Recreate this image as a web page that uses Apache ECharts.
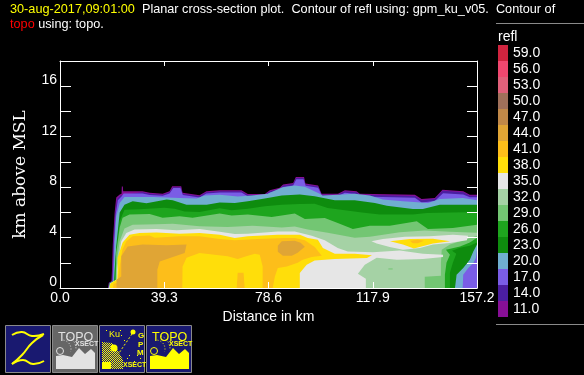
<!DOCTYPE html>
<html>
<head>
<meta charset="utf-8">
<style>
  html, body { margin: 0; padding: 0; background: #000; }
  #chart { width: 584px; height: 375px; }
</style>
<script src="https://cdn.jsdelivr.net/npm/echarts@6/dist/echarts.min.js"></script>
</head>
<body>
<div id="chart"></div>
<script>
// colour scale, top to bottom as in the legend
const legendLevels = [59, 56, 53, 50, 47, 44, 41, 38, 35, 32, 29, 26, 23, 20, 17, 14, 11];
const legendColors = ["#d0243f", "#f0476f", "#e0607a", "#a0705a", "#c08848", "#e0a535", "#fdbe1a", "#ffde0a",
  "#e6e6e6", "#a5d2a5", "#73c673", "#1ea51e", "#0e8c0e", "#70aed0", "#7a5de6", "#4b1ea0", "#870f96"];

const distanceTicks = 39.3;
const distanceMax = 157.2;
const heightMax = 18;

// contour outlines: [distance km, height km]
const refl11 = [[18.1,0],[18.4,.42],[19.4,.54],[19.6,1.45],[19.9,3.44],[20.6,5.98],[21.2,7.17],[22.5,7.41],[23.2,7.48],[23.3,8.04],[23.7,8.04],[23.8,7.68],[31.1,7.68],[33.8,7.56],[38.7,7.48],[41.3,7.67],[42.3,8.06],[45.7,8.06],[46.2,7.56],[52.6,7.35],[55.2,7.67],[60.2,7.75],[68.4,7.75],[70.8,7.46],[77.2,7.46],[79.1,7.75],[82.8,7.94],[84.1,8.2],[87.9,8.33],[88.9,8.81],[92,8.81],[92.5,8.28],[97.3,8.12],[98.6,7.48],[104.8,7.48],[107.4,7.75],[111.8,7.67],[113,7.48],[133.8,7.4],[136.3,7.06],[141.3,7.14],[144.2,7.8],[152,7.67],[154.5,7.4],[157.2,7.4],[157.2,0]];
const refl14 = [[18.2,0],[18.5,.4],[19.6,.55],[19.8,1.45],[20.1,3.44],[20.8,5.9],[21.5,7.05],[22.8,7.33],[31.1,7.6],[33.8,7.48],[38.7,7.4],[41.3,7.6],[42.6,7.98],[45.5,7.98],[46.2,7.48],[52.6,7.27],[55.2,7.6],[60.2,7.67],[68.4,7.67],[70.8,7.38],[77.2,7.38],[79.1,7.67],[82.8,7.86],[84.1,8.12],[87.9,8.25],[89,8.73],[91.9,8.73],[92.5,8.2],[97.3,8.04],[98.6,7.4],[104.8,7.4],[107.4,7.67],[111.8,7.6],[113,7.4],[133.8,7.3],[136.3,6.95],[141.3,7.05],[144.2,7.72],[152,7.6],[154.5,7.32],[157.2,7.32],[157.2,0]];
const refl17 = [[18.3,0],[18.6,.38],[19.8,.56],[20,1.45],[20.3,3.44],[21,5.85],[21.8,6.95],[23.2,7.25],[24,7.5],[31.1,7.5],[33.8,7.38],[38.7,7.32],[41.3,7.5],[42.7,7.92],[45.4,7.92],[46.3,7.38],[52.6,7.18],[55.2,7.5],[60.2,7.58],[68.4,7.58],[70.8,7.28],[77.2,7.28],[79.1,7.58],[82.8,7.75],[84.1,8],[87.9,8.12],[89.1,8.62],[91.8,8.62],[92.6,8.1],[97.3,7.95],[98.8,7.3],[104.8,7.3],[107.4,7.55],[111.8,7.45],[113.2,7.25],[133.8,7.15],[136.3,6.78],[141.3,6.9],[144.4,7.52],[152,7.42],[154.5,7.2],[157.2,7.2],[157.2,0]];
const refl20 = [[18.35,0],[18.7,.36],[20.1,.58],[20.3,1.45],[20.6,3.6],[21.2,5.68],[22.5,6.75],[24.3,7.22],[30,7.22],[34.9,7.22],[40.2,7.17],[45.1,7.13],[51.5,7.09],[54.5,7.33],[60.2,7.4],[67,7.25],[72.3,7.33],[78.3,7.48],[83.6,7.96],[88.5,8.12],[92.3,8.02],[97.9,7.48],[99,7.33],[104.7,7.4],[111.1,7.48],[116.8,7.33],[121.7,7.01],[129.3,6.87],[138.7,6.75],[143.2,7.06],[151.9,7.14],[157.2,6.95],[157.2,3.04],[156.8,2.38],[155.8,1.98],[153.9,1.59],[152,1.06],[151.8,0]];
const refl23 = [[18.4,0],[18.7,.36],[20.4,.6],[20.6,1.45],[21.2,3.3],[22.5,5.98],[24.3,6.61],[27.4,6.87],[32.6,6.73],[40.2,7.01],[42.5,6.95],[47.7,6.61],[55.3,6.61],[60.2,6.77],[65.9,6.75],[70.8,6.87],[77.2,7.09],[83.6,7.33],[90.4,7.41],[96,7.27],[103.6,6.95],[111.1,6.95],[118.7,6.75],[123.2,6.53],[133,6.27],[136.8,6.27],[143.2,6.61],[157.2,6.61],[157.2,3.44],[155.8,2.9],[154.5,2.25],[152,1.59],[149.5,1.06],[148.9,0]];
const refl26 = [[18.45,0],[18.75,.36],[20.7,.62],[20.8,1.45],[21.2,3.04],[22.5,5.29],[24.3,6.21],[30,6.25],[39.4,6.37],[43.2,6.29],[47,6.06],[52.6,6.02],[60.2,6.33],[64.7,6.16],[70.8,6.29],[77.2,6.48],[83.6,6.61],[90.4,6.67],[96,6.69],[100.9,6.35],[107.4,6.16],[113.8,5.98],[120.6,5.82],[133,5.82],[138.3,5.95],[157.2,6.03],[157.2,3.6],[154.5,3.36],[150.8,3.2],[147.8,2.96],[149.4,2.72],[148.1,2.01],[147,1.21],[147,0]];
const refl29 = [[18.5,0],[18.8,.36],[21,.64],[21.1,1.45],[21.2,2.8],[22.5,4.79],[23.6,5.58],[26.2,5.82],[33.8,5.87],[38.7,5.58],[45.1,5.68],[50,5.58],[60.2,5.9],[64.7,5.74],[70.8,5.82],[79.8,5.63],[83.6,5.74],[88.5,5.9],[92.3,5.48],[99.8,5.56],[104.7,5.16],[110.4,4.68],[116.8,4.94],[124.3,4.94],[134.5,5.29],[138.7,4.68],[148.1,4.76],[157.2,5.02],[157.2,3.99],[154.5,3.6],[150.8,3.3],[145.5,3.04],[147,2.64],[145.7,2.01],[145.1,1.06],[145.1,0]];
const refl32 = [[18.55,0],[18.85,.36],[21.2,.66],[21.3,1.45],[21.7,2.51],[22.5,3.7],[24.3,4.71],[27.4,5.02],[36.4,5.06],[42.5,5.1],[52.6,4.89],[63.2,4.83],[72.6,4.94],[83.6,4.79],[88.5,4.87],[93.4,4.63],[100.9,4.39],[111.1,3.99],[116.8,4.07],[128.1,4.43],[137.5,4.55],[147,4.47],[157.2,4.39],[157.2,4.15],[152.6,3.83],[147,3.44],[143.9,3.04],[143.6,2.01],[143.6,.98],[137.5,.9],[137.5,0]];
const refl29Speck = [[123.8,1.55],[125.4,1.55],[125.4,1.47],[123.8,1.47]];
const refl35 = [[18.6,0],[18.9,.36],[21.5,.68],[21.5,1.45],[22.5,2.9],[23.1,3.7],[25,4.37],[28.1,4.63],[36.4,4.68],[44,4.57],[52.6,4.68],[60.2,4.47],[65.9,4.29],[70.8,4.31],[82.1,4.49],[88.5,4.49],[90.4,4.39],[94.9,4.15],[99.8,3.78],[104.7,3.17],[108.5,2.9],[117.9,2.83],[128.1,2.98],[136.8,2.72],[144.4,2.64],[144.4,2.46],[136.8,2.3],[127,2.25],[119.4,2.4],[114.9,1.85],[112.3,1.13],[115.3,.74],[115.3,0]];
const refl35Lens = [[117.4,3.7],[121.7,3.89],[130,4.07],[139.4,4.1],[148.1,4.23],[153.8,4.15],[153.4,3.78],[147,3.57],[140.6,3.44],[135.7,3.17],[129.3,3.04],[124.3,3.25],[119.4,3.52]];
const refl38 = [[18.7,0],[19,.36],[21.6,.7],[21.7,1.45],[21.7,2.4],[23.6,3.6],[26.2,4.23],[30,4.37],[36.4,4.41],[45.1,4.31],[52.6,4.37],[60.2,4.23],[65.9,3.97],[70.8,4.1],[82.1,4.23],[90.4,4.23],[93.4,3.97],[97.2,3.83],[99.1,3.17],[103.6,2.72],[111.1,2.72],[117.6,2.59],[115.7,2.38],[103.6,2.3],[96,2.19],[93,1.85],[90.4,1.19],[90.4,0]];
const refl38Lens = [[124.4,3.7],[131.9,3.89],[140.6,3.91],[147,3.7],[140.6,3.52],[133.4,3.14],[129.3,3.44]];
const refl41 = [[20,0],[20.2,.34],[21.7,.42],[22.3,1.45],[23.5,3.04],[25,3.7],[27.4,4.1],[33.8,4.17],[35.7,3.99],[45.1,4.1],[52.6,4.1],[60.2,3.89],[65.9,3.78],[74.5,3.89],[84.7,3.97],[88.5,3.97],[92.3,3.78],[96,3.25],[98.7,2.56],[94.9,2.46],[91.5,2.25],[89.6,2.01],[85.5,1.71],[82.1,1.59],[81,.92],[80.2,0],[76.4,0],[76.4,1.71],[75.3,2.64],[73.4,2.72],[69.6,2.48],[67,2.3],[63.2,2.51],[58.3,2.64],[52.6,2.78],[47.7,2.4],[46.2,1.71],[46.1,0]];
const refl41Notch = [[66.6,0],[67,1.21],[69.2,1.21],[69.6,0]];
const refl41Lens = [[131.9,3.75],[134.9,3.83],[137.2,3.75],[134.9,3.55],[133,3.55]];
const refl44 = [[21.3,0],[21.3,.66],[23.1,.92],[23.1,2.51],[25.5,3.3],[31.1,3.44],[40.2,3.38],[47.7,3.44],[47,2.78],[37.6,2.11],[36.7,1.45],[36.7,0]];
const refl44Core = [[83.6,3.71],[88.5,3.75],[90.7,3.59],[92.3,3.28],[89.6,2.8],[87.4,2.56],[84,2.56],[82.1,2.88],[82.1,3.36]];

// paint order: weakest first, each stronger contour on top
const contourLayers = [
  [11, refl11], [14, refl14], [17, refl17], [20, refl20], [23, refl23], [26, refl26], [29, refl29],
  [32, refl32], [29, refl29Speck], [35, refl35], [35, refl35Lens], [38, refl38], [38, refl38Lens],
  [41, refl41], [41, refl41Notch], [41, refl41Lens], [44, refl44], [44, refl44Core],
];

const levelColor = (level) => legendColors[legendLevels.indexOf(level)];

const labelFont = "Liberation Sans";
const navy = "#191970";
const iconBorder = "#8a8a8a";

const renderContour = (params, api) => {
  const layer = contourLayers[params.dataIndex];
  return {
    type: "polygon",
    shape: { points: layer[1].map((p) => api.coord(p)) },
    style: { fill: levelColor(layer[0]) },
  };
};

// dither used on the GPM button
const ditherPattern = () => {
  const c = document.createElement("canvas");
  c.width = 2;
  c.height = 2;
  const ctx = c.getContext("2d");
  ctx.fillStyle = navy;
  ctx.fillRect(0, 0, 2, 2);
  ctx.fillStyle = "#ffff00";
  ctx.fillRect(0, 0, 1, 1);
  ctx.fillRect(1, 1, 1, 1);
  return { image: c, repeat: "repeat" };
};

const iconFrame = (bg) => ({
  type: "rect",
  shape: { x: 0.5, y: 0.5, width: 45, height: 47 },
  style: { fill: bg, stroke: iconBorder, lineWidth: 1 },
});

const iconText = (text, x, y, size, color, weight) => ({
  type: "text",
  x: x,
  y: y,
  style: { text: text, fill: color, font: (weight || "normal") + " " + size + "px " + labelFont },
});

// the TOPO buttons only differ in colour
const topoIcon = (x0, bg, fg) => ({
  type: "group",
  x: x0,
  y: 325,
  children: [
    iconFrame(bg),
    iconText("TOPO", 6, 6, 12.5, fg),
    iconText("XSECT", 23, 16, 7, fg, "bold"),
    {
      type: "polygon",
      shape: { points: [[4, 44], [4, 31], [11, 30], [20, 32], [27, 23], [33, 29], [39, 24], [43, 28], [43, 44]] },
      style: { fill: fg },
    },
    {
      type: "circle",
      shape: { cx: 8, cy: 26, r: 3.5 },
      style: { fill: bg, stroke: fg, lineWidth: 1 },
    },
    {
      type: "arc",
      shape: { cx: 10, cy: 24, r: 9, startAngle: -1.4, endAngle: 0.3 },
      style: { stroke: fg, lineWidth: 1, lineDash: [1, 2], fill: "none" },
    },
    {
      type: "arc",
      shape: { cx: 10, cy: 24, r: 14, startAngle: -1.2, endAngle: 0.1 },
      style: { stroke: fg, lineWidth: 1, lineDash: [1, 2], fill: "none" },
    },
  ],
});

const gpmDots = [[7, 5], [21, 5], [22, 10], [38, 30], [35, 36], [28, 33], [41, 33], [25, 15], [30, 30]];

const gpmIcon = {
  type: "group",
  x: 99,
  y: 325,
  children: [
    iconFrame(navy),
    {
      type: "polygon",
      shape: { points: [[3, 17], [13, 18], [17, 22], [24, 35], [24, 44], [3, 44]] },
      style: { fill: ditherPattern() },
    },
    { type: "rect", shape: { x: 3, y: 37, width: 9, height: 7 }, style: { fill: "#ffff00" } },
    { type: "circle", shape: { cx: 15, cy: 23, r: 3.5 }, style: { fill: "#ffff00" } },
    { type: "circle", shape: { cx: 34, cy: 7, r: 2.5 }, style: { fill: "#ffff00" } },
    {
      type: "line",
      shape: { x1: 33, y1: 9, x2: 20, y2: 28 },
      style: { stroke: "#ffff00", lineWidth: 1, lineDash: [2, 2] },
    },
    iconText("Ku", 10, 5, 9, "#ffff00"),
    iconText("G", 39, 7, 8, "#ffff00", "bold"),
    iconText("P", 39, 16, 8, "#ffff00", "bold"),
    iconText("M", 38, 24, 8, "#ffff00", "bold"),
    iconText("XSECT", 24, 37, 7, "#ffff00", "bold"),
  ].concat(gpmDots.map((d) => ({
    type: "rect",
    shape: { x: d[0], y: d[1], width: 1, height: 1 },
    style: { fill: "#ffff00" },
  }))),
};

const zStroke = (points) => ({
  type: "polyline",
  shape: { points: points, smooth: 0.5 },
  style: { stroke: "#ffff00", lineWidth: 2, fill: "none" },
});

const zIcon = {
  type: "group",
  x: 5,
  y: 325,
  children: [
    iconFrame(navy),
    zStroke([[7, 10], [17, 7], [27, 11], [39, 9]]),
    zStroke([[38, 10], [27, 18], [17, 30], [7, 39]]),
    zStroke([[7, 39], [18, 35], [28, 39], [39, 36]]),
  ],
};

const chart = echarts.init(document.getElementById("chart"));

chart.setOption({
  animation: false,
  backgroundColor: "#000",
  title: {
    left: 10,
    top: 2,
    padding: 0,
    text: "{y|30-aug-2017,09:01:00}{w|  Planar cross-section plot.  Contour of refl using: gpm_ku_v05.  Contour of}\n{r|topo}{w| using: topo.}",
    textStyle: {
      rich: {
        y: { color: "#ffff00", fontFamily: labelFont, fontWeight: "normal", fontSize: 12.7, lineHeight: 15 },
        w: { color: "#fff", fontFamily: labelFont, fontWeight: "normal", fontSize: 12.7, lineHeight: 15 },
        r: { color: "#ff0000", fontFamily: labelFont, fontWeight: "normal", fontSize: 12.7, lineHeight: 15 },
      },
    },
  },
  grid: [
    { left: 60, right: 107, top: 61, bottom: 87, outerBoundsMode: "none" },
    { left: 498, width: 10, top: 45, height: 272, outerBoundsMode: "none" },
  ],
  xAxis: [
    {
      type: "value",
      gridIndex: 0,
      min: 0,
      max: distanceMax,
      interval: distanceTicks,
      z: 10,
      splitLine: { show: false },
      axisLine: { onZero: false, lineStyle: { color: "#fff", width: 1 } },
      axisTick: { inside: true, length: 6, lineStyle: { color: "#fff" } },
      axisLabel: {
        color: "#fff",
        fontFamily: labelFont,
        fontSize: 14,
        margin: 3,
        hideOverlap: false,
        formatter: (v) => v.toFixed(1),
      },
      name: "Distance in km",
      nameLocation: "middle",
      nameGap: 20,
      nameTextStyle: { color: "#fff", fontFamily: labelFont, fontSize: 14 },
    },
    {
      type: "value",
      gridIndex: 0,
      position: "top",
      min: 0,
      max: distanceMax,
      interval: distanceTicks,
      z: 10,
      splitLine: { show: false },
      axisLine: { onZero: false, lineStyle: { color: "#fff", width: 1 } },
      axisTick: { inside: true, length: 5, lineStyle: { color: "#fff" } },
      axisLabel: { show: false },
    },
    {
      type: "value",
      gridIndex: 1,
      min: 0,
      max: 1,
      show: false,
    },
  ],
  yAxis: [
    {
      type: "value",
      gridIndex: 0,
      min: 0,
      max: heightMax,
      interval: 2,
      z: 10,
      splitLine: { show: false },
      axisLine: { onZero: false, lineStyle: { color: "#fff", width: 1 } },
      axisTick: { inside: true, length: 11, lineStyle: { color: "#fff" } },
      axisLabel: {
        color: "#fff",
        fontFamily: labelFont,
        fontSize: 14,
        margin: 3,
        verticalAlign: "bottom",
        lineHeight: 12,
        formatter: (v) => (v % 4 === 0 ? String(v) : ""),
      },
      name: "km above MSL",
      nameLocation: "middle",
      nameRotate: 90,
      nameGap: 31,
      nameTextStyle: { color: "#fff", fontFamily: "DejaVu Serif", fontSize: 17 },
    },
    {
      type: "value",
      gridIndex: 0,
      position: "right",
      min: 0,
      max: heightMax,
      interval: 2,
      z: 10,
      splitLine: { show: false },
      axisLine: { onZero: false, lineStyle: { color: "#fff", width: 1 } },
      axisTick: { inside: true, length: 10, lineStyle: { color: "#fff" } },
      axisLabel: { show: false },
    },
    {
      type: "category",
      gridIndex: 1,
      position: "right",
      inverse: true,
      data: legendLevels.map((v) => v.toFixed(1)),
      axisLine: { show: false },
      axisTick: { show: false },
      axisLabel: {
        color: "#fff",
        fontFamily: labelFont,
        fontSize: 14,
        margin: 5,
        interval: 0,
      },
    },
  ],
  series: [
    {
      type: "custom",
      xAxisIndex: 0,
      yAxisIndex: 0,
      clip: true,
      renderItem: renderContour,
      data: contourLayers.map((l) => [l[1][0][0], l[1][0][1]]),
    },
    {
      type: "bar",
      xAxisIndex: 2,
      yAxisIndex: 2,
      barWidth: "100%",
      data: legendLevels.map((v, i) => ({ value: 1, itemStyle: { color: legendColors[i] } })),
    },
  ],
  graphic: [
    {
      type: "line",
      shape: { x1: 496, y1: 23.5, x2: 584, y2: 23.5 },
      style: { stroke: iconBorder, lineWidth: 1 },
    },
    {
      type: "line",
      shape: { x1: 496, y1: 324.5, x2: 584, y2: 324.5 },
      style: { stroke: iconBorder, lineWidth: 1 },
    },
    {
      type: "text",
      x: 498,
      y: 30,
      style: { text: "refl", fill: "#fff", font: "14px " + labelFont },
    },
    zIcon,
    topoIcon(52, "#666666", "#e2e2e2"),
    gpmIcon,
    topoIcon(146, navy, "#ffff00"),
  ],
});

window.addEventListener("resize", () => chart.resize());
</script>
</body>
</html>
